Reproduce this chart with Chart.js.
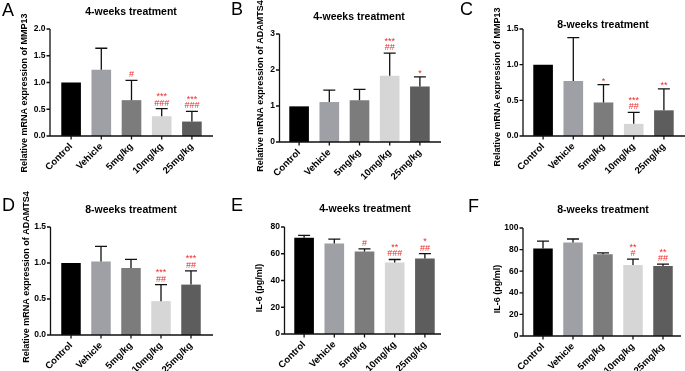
<!DOCTYPE html>
<html>
<head>
<meta charset="utf-8">
<script src="https://cdn.jsdelivr.net/npm/chart.js@4.4.0/dist/chart.umd.min.js"></script>
<style>
  body { margin: 0; background: #fff; }
  #wrap { position: relative; width: 685px; height: 371px; }
  canvas { position: absolute; }
</style>
</head>
<body>
<div id="wrap">
  <canvas id="pA" width="228" height="185" style="left:0;top:0"></canvas>
  <canvas id="pB" width="227" height="185" style="left:228px;top:0"></canvas>
  <canvas id="pC" width="230" height="185" style="left:455px;top:0"></canvas>
  <canvas id="pD" width="228" height="186" style="left:0;top:185px"></canvas>
  <canvas id="pE" width="227" height="186" style="left:228px;top:185px"></canvas>
  <canvas id="pF" width="230" height="186" style="left:455px;top:185px"></canvas>
</div>
<script>
const groups = ['Control', 'Vehicle', '5mg/kg', '10mg/kg', '25mg/kg'];
const barColors = ['#000000', '#9f9fa6', '#7c7c7c', '#d6d6d6', '#5d5d5d'];

// A - MMP13 mRNA, 4 weeks
const mmp13W4 = [1.00, 1.24, 0.67, 0.37, 0.27];
const mmp13W4Sd = [0, 0.40, 0.37, 0.14, 0.19];
const mmp13W4Sig = [[], [], ['#'], ['***', '###'], ['***', '###']];
const mmp13W4Ticks = [0, 0.5, 1.0, 1.5, 2.0];

// B - ADAMTS4 mRNA, 4 weeks
const adamts4W4 = [0.99, 1.11, 1.16, 1.84, 1.54];
const adamts4W4Sd = [0, 0.33, 0.30, 0.63, 0.27];
const adamts4W4Sig = [[], [], [], ['***', '##'], ['*']];
const adamts4W4Ticks = [0, 1, 2, 3];

// C - MMP13 mRNA, 8 weeks
const mmp13W8 = [1.00, 0.77, 0.47, 0.17, 0.36];
const mmp13W8Sd = [0, 0.61, 0.25, 0.16, 0.30];
const mmp13W8Sig = [[], [], ['*'], ['***', '##'], ['**']];
const mmp13W8Ticks = [0, 0.5, 1.0, 1.5];

// D - ADAMTS4 mRNA, 8 weeks
const adamts4W8 = [1.00, 1.02, 0.93, 0.47, 0.70];
const adamts4W8Sd = [0, 0.21, 0.12, 0.23, 0.19];
const adamts4W8Sig = [[], [], [], ['***', '##'], ['***', '##']];
const adamts4W8Ticks = [0, 0.5, 1.0, 1.5];

// E - IL-6, 4 weeks
const il6W4 = [72.0, 67.6, 61.6, 53.5, 56.4];
const il6W4Sd = [1.8, 3.4, 2.0, 2.2, 3.7];
const il6W4Sig = [[], [], ['#'], ['**', '###'], ['*', '##']];
const il6W4Ticks = [0, 20, 40, 60, 80];

// F - IL-6, 8 weeks
const il6W8 = [81.0, 86.6, 75.8, 65.8, 64.9];
const il6W8Sd = [6.9, 3.2, 1.2, 5.3, 1.6];
const il6W8Sig = [[], [], [], ['**', '#'], ['**', '##']];
const il6W8Ticks = [0, 20, 40, 60, 80, 100];

Chart.defaults.font.family = '"Liberation Sans", Arial, sans-serif';
Chart.defaults.color = '#000';

// positions are in each canvas' own pixels
const panels = [
  { id: 'pA', letter: 'A', letterXY: [2, 16], title: '4-weeks treatment', titleXY: [131, 12],
    yTitle: 'Relative mRNA expression of MMP13', yTitleXY: [25, 93],
    area: [56, 29, 207, 136], axisX: 50, axisEnd: 213, dec: 1,
    values: mmp13W4, sd: mmp13W4Sd, sig: mmp13W4Sig, ticks: mmp13W4Ticks },
  { id: 'pB', letter: 'B', letterXY: [3, 15], title: '4-weeks treatment', titleXY: [131, 17],
    yTitle: 'Relative mRNA expression of ADAMTS4', yTitleXY: [33, 86],
    area: [56, 34, 207, 142], axisX: 51.5, axisEnd: 213, dec: 0,
    values: adamts4W4, sd: adamts4W4Sd, sig: adamts4W4Sig, ticks: adamts4W4Ticks },
  { id: 'pC', letter: 'C', letterXY: [5, 15], title: '8-weeks treatment', titleXY: [148, 25],
    yTitle: 'Relative mRNA expression of MMP13', yTitleXY: [43, 87],
    area: [73, 29, 224, 136], axisX: 68, axisEnd: 230, dec: 1,
    values: mmp13W8, sd: mmp13W8Sd, sig: mmp13W8Sig, ticks: mmp13W8Ticks },
  { id: 'pD', letter: 'D', letterXY: [2, 26], title: '8-weeks treatment', titleXY: [131, 25],
    yTitle: 'Relative mRNA expression of ADAMTS4', yTitleXY: [27, 92],
    area: [56, 42, 206, 150], axisX: 50.5, axisEnd: 213, dec: 1,
    values: adamts4W8, sd: adamts4W8Sd, sig: adamts4W8Sig, ticks: adamts4W8Ticks },
  { id: 'pE', letter: 'E', letterXY: [3, 26], title: '4-weeks treatment', titleXY: [137, 24],
    yTitle: 'IL-6 (pg/ml)', yTitleXY: [32, 103],
    area: [61, 42, 212, 149], axisX: 56.5, axisEnd: 213, dec: 0,
    values: il6W4, sd: il6W4Sd, sig: il6W4Sig, ticks: il6W4Ticks },
  { id: 'pF', letter: 'F', letterXY: [13, 27], title: '8-weeks treatment', titleXY: [148, 25],
    yTitle: 'IL-6 (pg/ml)', yTitleXY: [43, 104],
    area: [73, 43, 223, 151], axisX: 68, axisEnd: 226, dec: 0,
    values: il6W8, sd: il6W8Sd, sig: il6W8Sig, ticks: il6W8Ticks }
];

function drawPanel(chart, p) {
  const ctx = chart.ctx;
  const xs = chart.scales.x, ys = chart.scales.y;
  const top = ys.getPixelForValue(ys.max), bottom = ys.getPixelForValue(ys.min);
  ctx.save();
  ctx.strokeStyle = '#111';
  ctx.lineWidth = 1.3;

  // axes with outward ticks
  ctx.beginPath();
  ctx.moveTo(p.axisX, top);
  ctx.lineTo(p.axisX, bottom);
  ctx.lineTo(p.axisEnd, bottom);
  ys.ticks.forEach(t => {
    const py = ys.getPixelForValue(t.value);
    ctx.moveTo(p.axisX - 3.5, py);
    ctx.lineTo(p.axisX, py);
  });
  groups.forEach((g, i) => {
    const px = xs.getPixelForValue(i);
    ctx.moveTo(px, bottom);
    ctx.lineTo(px, bottom + 3.5);
  });
  ctx.stroke();

  // error bars (mean + SD) and significance marks
  const bars = chart.getDatasetMeta(0).data;
  ctx.font = '9px "Liberation Sans", Arial, sans-serif';
  ctx.textAlign = 'center';
  ctx.textBaseline = 'middle';
  p.values.forEach((v, i) => {
    const px = bars[i].x;
    const yTop = ys.getPixelForValue(v + p.sd[i]);
    if (p.sd[i] > 0) {
      ctx.beginPath();
      ctx.moveTo(px, ys.getPixelForValue(v));
      ctx.lineTo(px, yTop);
      ctx.moveTo(px - 6, yTop);
      ctx.lineTo(px + 6, yTop);
      ctx.stroke();
    }
    const marks = p.sig[i];
    marks.forEach((m, k) => {
      const level = marks.length - 1 - k;
      let cy = yTop - 5.5 - level * 8.5;
      if (m[0] === '*') cy += 2;
      ctx.fillStyle = '#ec2b2b';
      ctx.fillText(m, px, cy);
    });
  });

  // panel letter, title, y axis title
  ctx.fillStyle = '#000';
  ctx.textAlign = 'left';
  ctx.textBaseline = 'alphabetic';
  ctx.font = '18px "Liberation Sans", Arial, sans-serif';
  ctx.fillText(p.letter, p.letterXY[0], p.letterXY[1]);
  ctx.textAlign = 'center';
  ctx.textBaseline = 'middle';
  ctx.font = 'bold 10.5px "Liberation Sans", Arial, sans-serif';
  ctx.fillText(p.title, p.titleXY[0], p.titleXY[1]);
  ctx.translate(p.yTitleXY[0], p.yTitleXY[1]);
  ctx.rotate(-Math.PI / 2);
  ctx.font = 'bold 9px "Liberation Sans", Arial, sans-serif';
  ctx.fillText(p.yTitle, 0, 0);
  ctx.restore();
}

panels.forEach(p => {
  const el = document.getElementById(p.id);
  const W = el.width, H = el.height;
  new Chart(el, {
    type: 'bar',
    data: {
      labels: groups,
      datasets: [{
        data: p.values,
        backgroundColor: barColors,
        barPercentage: 0.65,
        categoryPercentage: 1
      }]
    },
    options: {
      responsive: false,
      animation: false,
      layout: { padding: { left: 0, top: p.area[1], right: W - p.area[2], bottom: 0 } },
      plugins: { legend: { display: false }, tooltip: { enabled: false } },
      scales: {
        x: {
          grid: { display: false, drawTicks: false },
          border: { display: false },
          ticks: {
            autoSkip: false, minRotation: 45, maxRotation: 45, padding: 5,
            font: { size: 9.5, weight: 'bold' }
          },
          afterFit: s => { s.height = H - p.area[3]; }
        },
        y: {
          min: p.ticks[0],
          max: p.ticks[p.ticks.length - 1],
          grid: { display: false, drawTicks: false },
          border: { display: false },
          ticks: {
            stepSize: p.ticks[1] - p.ticks[0],
            padding: p.area[0] - p.axisX + 4.5,
            font: { size: 8.5, weight: 'bold' },
            callback: v => v.toFixed(p.dec)
          },
          afterFit: s => { s.width = p.area[0]; }
        }
      }
    },
    plugins: [{ id: 'panelDecor', afterDatasetsDraw: c => drawPanel(c, p) }]
  });
});
</script>
</body>
</html>
